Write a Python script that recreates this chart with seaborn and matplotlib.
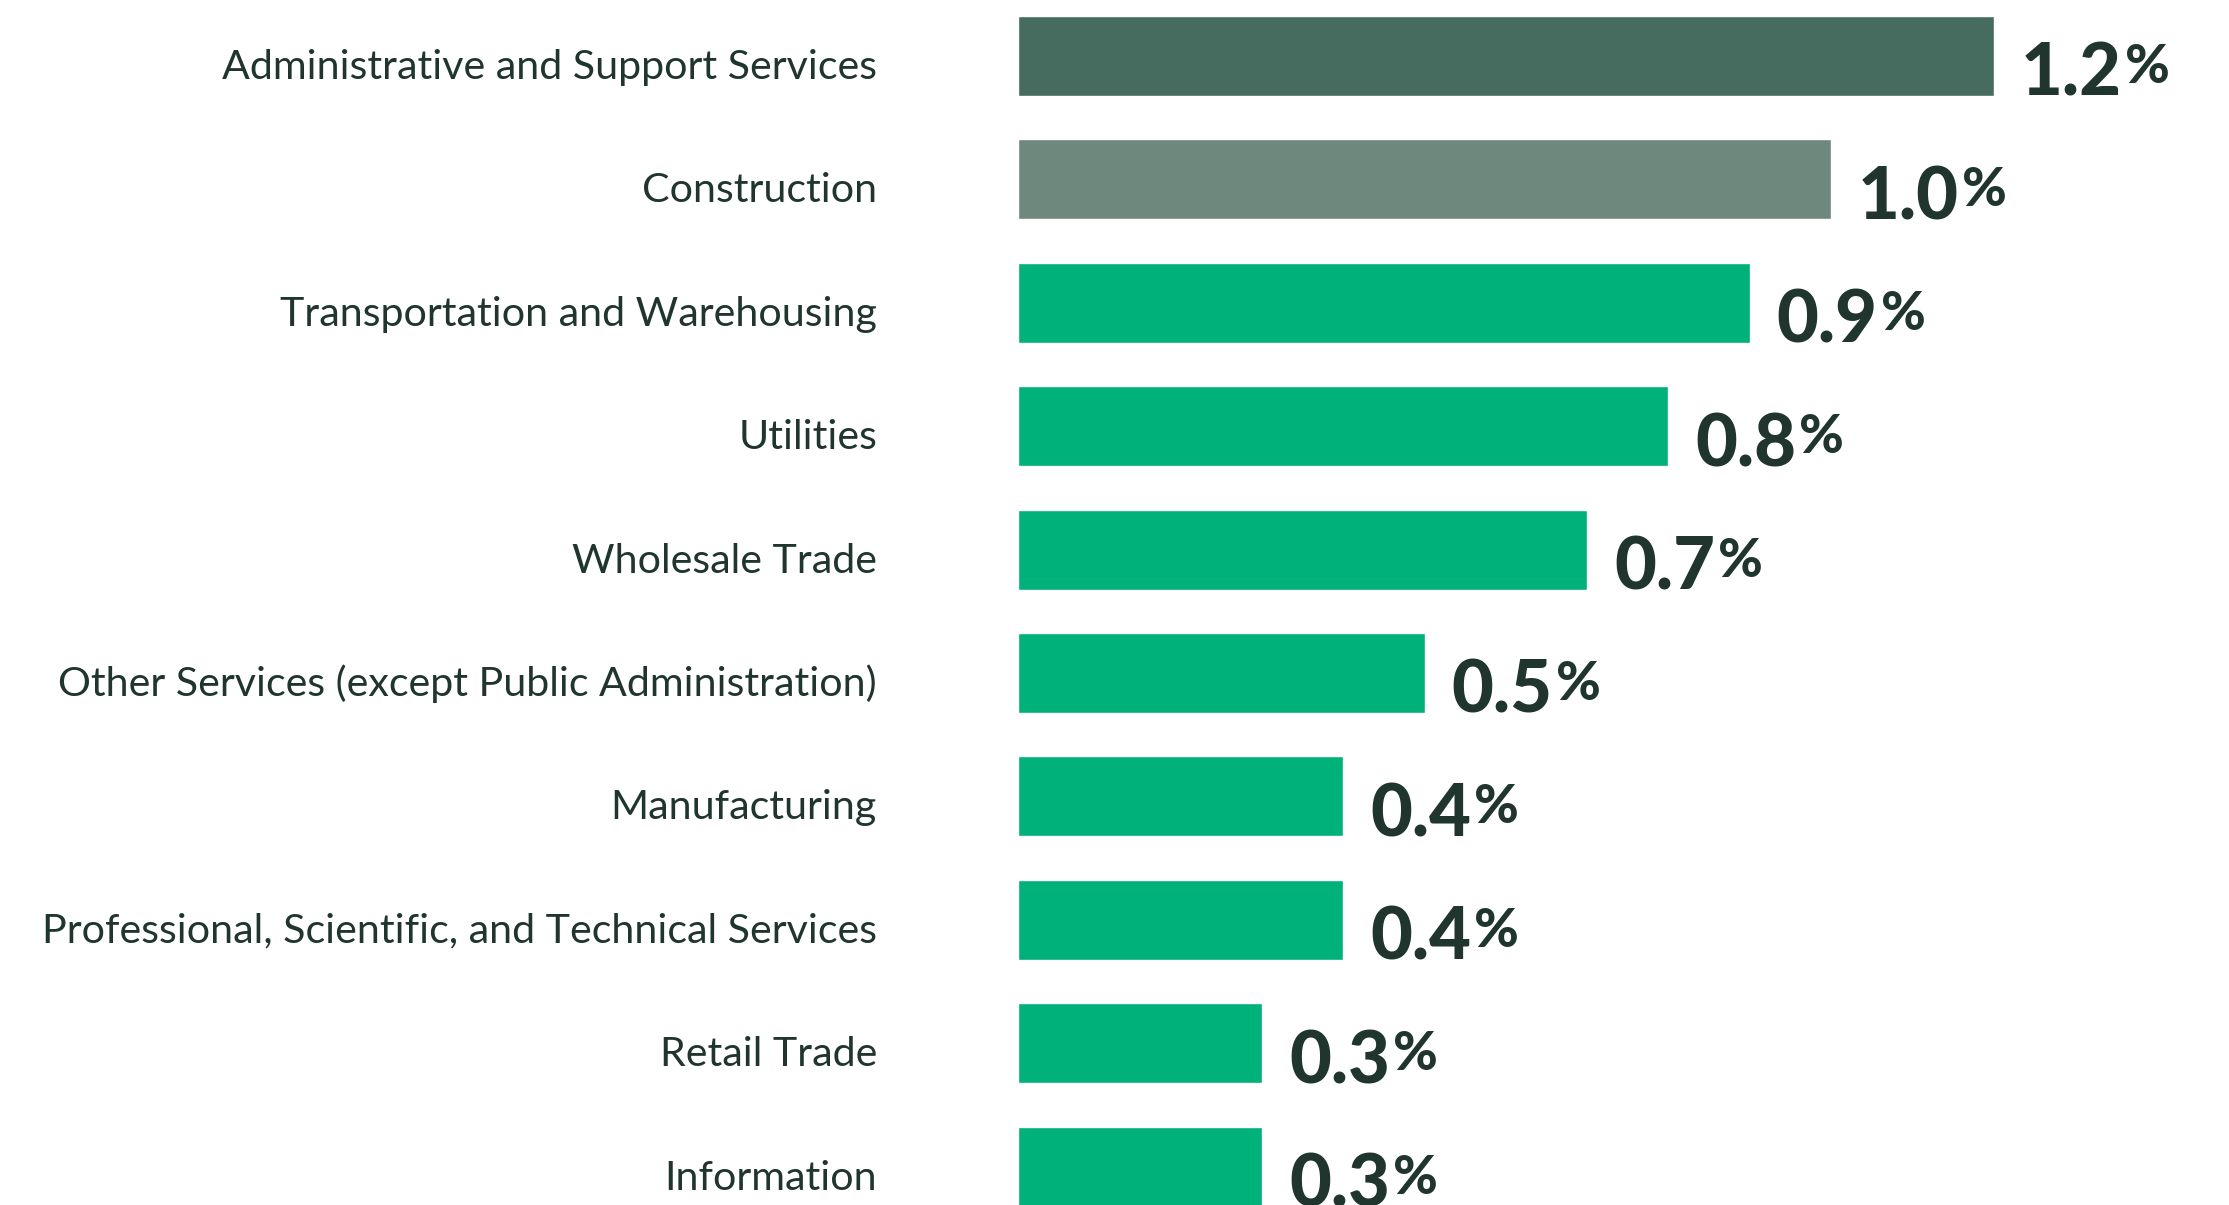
import matplotlib
matplotlib.use("Agg")
import matplotlib.pyplot as plt
import matplotlib.transforms as mtransforms
import pandas as pd
import seaborn as sns

# Share of establishments by industry (percent)
industries = [
    "Administrative and Support Services",
    "Construction",
    "Transportation and Warehousing",
    "Utilities",
    "Wholesale Trade",
    "Other Services (except Public Administration)",
    "Manufacturing",
    "Professional, Scientific, and Technical Services",
    "Retail Trade",
    "Information",
]
shares = [1.2, 1.0, 0.9, 0.8, 0.7, 0.5, 0.4, 0.4, 0.3, 0.3]
bar_colors = ["#466B5F", "#6F887E"] + ["#00B17A"] * 8

TEXT_COLOR = "#1F352D"

sns.set_theme(style="white")
plt.rcParams["font.family"] = ["Lato", "DejaVu Sans"]

W, H, DPI = 2229, 1205, 100
fig = plt.figure(figsize=(W / DPI, H / DPI), dpi=DPI)
fig.patch.set_facecolor("white")

x0 = 1018          # left edge of the bars, in pixels
px_per_unit = 813  # horizontal pixels per 1 percentage point
ax = fig.add_axes([x0 / W, 0, 1 - x0 / W, 1])

df = pd.DataFrame({"industry": industries, "share": shares})
sns.barplot(
    data=df, x="share", y="industry", hue="industry",
    palette=bar_colors, legend=False, width=0.648,
    saturation=1, ax=ax,
)

ax.set_xlim(0, (W - x0) / px_per_unit)
ax.set_ylim(9.311, -0.4538)
ax.set_axis_off()

# Category labels to the left of the bars
label_x = -141 / px_per_unit
for i, name in enumerate(industries):
    ax.text(label_x, i + 0.186, name, ha="right", va="baseline",
            fontsize=29.6, color=TEXT_COLOR, clip_on=False)

# Value labels: bold number with a smaller, raised percent sign
num_fs, pct_fs, cap = 52, 39, 0.7165
num_texts = []
for i, v in enumerate(shares):
    t = ax.text(v + 27 / px_per_unit, i + 0.324, f"{v:.1f}",
                ha="left", va="baseline", fontsize=num_fs,
                fontweight="black", color=TEXT_COLOR, clip_on=False)
    num_texts.append(t)

fig.canvas.draw()
renderer = fig.canvas.get_renderer()
inv = ax.transData.inverted()
lift = mtransforms.offset_copy(ax.transData, fig=fig, x=0,
                               y=cap * (num_fs - pct_fs), units="points")
for i, t in enumerate(num_texts):
    bb = t.get_window_extent(renderer)
    x_data = inv.transform((bb.x1 + 3, 0))[0]
    ax.text(x_data, i + 0.324, "%", ha="left", va="baseline",
            fontsize=pct_fs, fontweight="black", color=TEXT_COLOR,
            transform=lift, clip_on=False)

fig.savefig("out.png", dpi=DPI, facecolor="white")
